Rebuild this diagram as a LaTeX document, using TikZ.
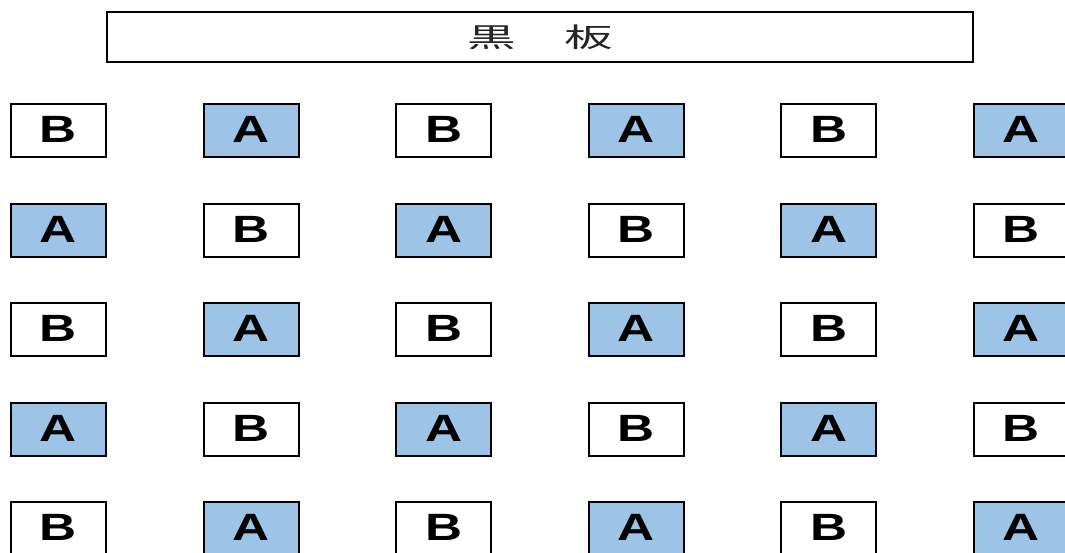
\documentclass[tikz,border=0pt]{standalone}
\usepackage{graphicx}
\usepackage{fontspec}
\setmainfont{Liberation Sans}
\newfontfamily\jpfont{Noto Sans CJK JP}
\definecolor{seatblue}{HTML}{9DC3E6}

\begin{document}
\begin{tikzpicture}[x=1pt, y=-1pt,
    seat/.style={draw, line width=2pt, minimum width=95pt, minimum height=53pt,
      inner sep=0pt, font=\bfseries\fontsize{38}{38}\selectfont},
    board/.style={draw, line width=2.5pt, minimum width=866pt, minimum height=50pt,
      inner sep=0pt, text=black!85, font=\jpfont\fontsize{27}{27}\selectfont}]
            \clip (0,0) rectangle (1065,552);
            \node[board] (bb) at (540,37) {\raisebox{2pt}{\scalebox{1.8}[1]{黒　板}}};
            \foreach \r in {0,...,4} {
              \foreach \c in {0,...,5} {
                \pgfmathtruncatemacro\odd{mod(\r+\c,2)}
                \ifnum\odd=0
                  \node[seat] (s-\r-\c) at (58.5+192.6*\c, 130.5+99.5*\r) {\raisebox{1.5pt}{\scalebox{1.35}[1]{B}}};
                \else
                  \node[seat, fill=seatblue] (s-\r-\c) at (58.5+192.6*\c, 130.5+99.5*\r) {\raisebox{1.5pt}{\scalebox{1.35}[1]{A}}};
                \fi
              }
            }
        \end{tikzpicture}
\end{document}
